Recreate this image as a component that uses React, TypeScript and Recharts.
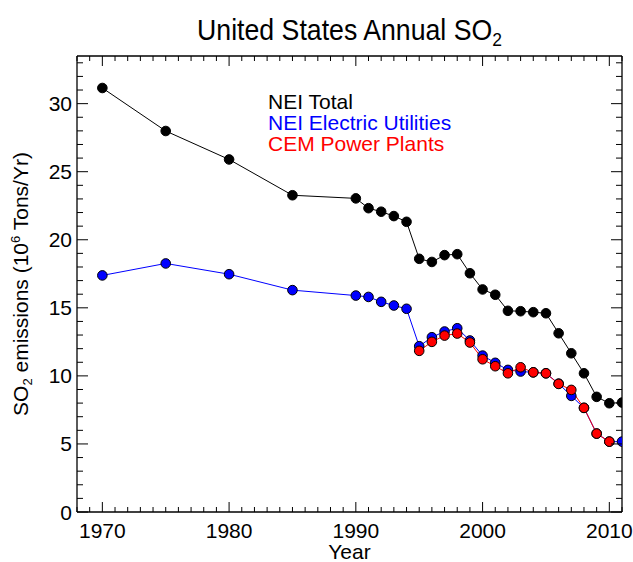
import React from 'react';
import { LineChart, Line, XAxis, YAxis } from 'recharts';

const years = [1970, 1975, 1980, 1985, 1990, 1991, 1992, 1993, 1994, 1995, 1996, 1997, 1998, 1999, 2000, 2001, 2002, 2003, 2004, 2005, 2006, 2007, 2008, 2009, 2010, 2011];
const neiTotal = [31.15, 27.99, 25.9, 23.27, 23.04, 22.32, 22.06, 21.74, 21.32, 18.6, 18.37, 18.87, 18.94, 17.54, 16.35, 15.96, 14.78, 14.75, 14.68, 14.6, 13.13, 11.66, 10.19, 8.46, 7.99, 8.04];
const neiElectric = [17.38, 18.26, 17.47, 16.3, 15.9, 15.8, 15.44, 15.17, 14.93, 12.18, 12.84, 13.26, 13.5, 12.6, 11.49, 10.96, 10.44, 10.32, 10.26, 10.19, 9.43, 8.53, 7.65, 5.76, 5.17, 5.17];
const cemYears = [1995, 1996, 1997, 1998, 1999, 2000, 2001, 2002, 2003, 2004, 2005, 2006, 2007, 2008, 2009, 2010];
const cemPower = [11.84, 12.5, 12.96, 13.11, 12.45, 11.22, 10.71, 10.19, 10.63, 10.26, 10.19, 9.41, 8.97, 7.65, 5.76, 5.17];

const xDomain = [1968, 2011];
const yDomain = [0, 33.5];
const xTicks = Array.from({ length: 2011 - 1968 + 1 }, (_, i) => 1968 + i);
const yTicks = Array.from({ length: 34 }, (_, i) => i);

const legendLabels = ['NEI Total', 'NEI Electric Utilities', 'CEM Power Plants'];
const seriesColors = ['#000000', '#0000ff', '#ff0000'];

const data = years.map((yr, i) => {
  const ci = cemYears.indexOf(yr);
  return {
    year: yr,
    total: neiTotal[i],
    electric: neiElectric[i],
    cem: ci >= 0 ? cemPower[ci] : undefined,
  };
});

const FONT = '"Liberation Sans", Arial, Helvetica, sans-serif';
const FS = 21;

const BottomTick = (props: any) => {
  const { x, y, payload } = props;
  const v = payload.value;
  const major = v % 10 === 0;
  return (
    <g>
      <line x1={x} x2={x} y1={y} y2={y - (major ? 10 : 5)} stroke="#000" strokeWidth={1} />
      {major && (
        <text x={x} y={y + 26} textAnchor="middle" fontSize={FS} fontFamily={FONT} fill="#000">
          {v}
        </text>
      )}
    </g>
  );
};

const TopTick = (props: any) => {
  const { x, y, payload } = props;
  const major = payload.value % 10 === 0;
  return <line x1={x} x2={x} y1={y} y2={y + (major ? 10 : 5)} stroke="#000" strokeWidth={1} />;
};

const LeftTick = (props: any) => {
  const { x, y, payload } = props;
  const v = payload.value;
  const major = v % 5 === 0;
  return (
    <g>
      <line x1={x} x2={x + (major ? 11 : 6)} y1={y} y2={y} stroke="#000" strokeWidth={1} />
      {major && (
        <text x={x - 5} y={y + 7.5} textAnchor="end" fontSize={FS} fontFamily={FONT} fill="#000">
          {v}
        </text>
      )}
    </g>
  );
};

const RightTick = (props: any) => {
  const { x, y, payload } = props;
  const major = payload.value % 5 === 0;
  return <line x1={x} x2={x - (major ? 11 : 6)} y1={y} y2={y} stroke="#000" strokeWidth={1} />;
};

const dotFor = (fill: string) => ({ r: 4.8, fill, stroke: '#000', strokeWidth: 1 });

export default function App() {
  return (
    <div style={{ position: 'absolute', left: 0, top: 0, width: 633, height: 562, background: '#fff' }}>
      <LineChart width={633} height={562} data={data} margin={{ top: 0, right: 0, bottom: 0, left: 0 }}>
        <XAxis
          xAxisId="bottom"
          dataKey="year"
          type="number"
          domain={xDomain}
          ticks={xTicks}
          interval={0}
          height={50}
          tickSize={0}
          tickMargin={0}
          tickLine={false}
          axisLine={{ stroke: '#000', strokeWidth: 1.3 }}
          tick={BottomTick}
          allowDataOverflow
        />
        <XAxis
          xAxisId="top"
          orientation="top"
          dataKey="year"
          type="number"
          domain={xDomain}
          ticks={xTicks}
          interval={0}
          height={56}
          tickSize={0}
          tickMargin={0}
          tickLine={false}
          axisLine={{ stroke: '#000', strokeWidth: 1.3 }}
          tick={TopTick}
          allowDataOverflow
        />
        <YAxis
          yAxisId="left"
          type="number"
          domain={yDomain}
          ticks={yTicks}
          interval={0}
          width={77}
          tickSize={0}
          tickMargin={0}
          tickLine={false}
          axisLine={{ stroke: '#000', strokeWidth: 1.3 }}
          tick={LeftTick}
          allowDataOverflow
        />
        <YAxis
          yAxisId="right"
          orientation="right"
          type="number"
          domain={yDomain}
          ticks={yTicks}
          interval={0}
          width={11}
          tickSize={0}
          tickMargin={0}
          tickLine={false}
          axisLine={{ stroke: '#000', strokeWidth: 1.3 }}
          tick={RightTick}
          allowDataOverflow
        />
        <Line
          xAxisId="bottom"
          yAxisId="left"
          dataKey="total"
          stroke={seriesColors[0]}
          strokeWidth={1}
          dot={dotFor(seriesColors[0])}
          activeDot={false}
          isAnimationActive={false}
        />
        <Line
          xAxisId="bottom"
          yAxisId="left"
          dataKey="electric"
          stroke={seriesColors[1]}
          strokeWidth={1}
          dot={dotFor(seriesColors[1])}
          activeDot={false}
          isAnimationActive={false}
        />
        <Line
          xAxisId="bottom"
          yAxisId="left"
          dataKey="cem"
          stroke={seriesColors[2]}
          strokeWidth={1}
          dot={dotFor(seriesColors[2])}
          activeDot={false}
          isAnimationActive={false}
        />
      </LineChart>
      <svg
        width={633}
        height={562}
        style={{ position: 'absolute', left: 0, top: 0, pointerEvents: 'none' }}
        fontFamily={FONT}
      >
        <text transform="translate(349.5,40) scale(0.92,1)" textAnchor="middle" fontSize={29} fill="#000">
          United States Annual SO
          <tspan fontSize={19} dy={6}>2</tspan>
        </text>
        <text x={349.5} y={559} textAnchor="middle" fontSize={FS} fill="#000">
          Year
        </text>
        <text transform="translate(28,284) rotate(-90)" textAnchor="middle" fontSize={FS} fill="#000">
          SO
          <tspan fontSize={13} dy={4}>2</tspan>
          <tspan dy={-4}> emissions (10</tspan>
          <tspan fontSize={13} dy={-8}>6</tspan>
          <tspan dy={8}> Tons/Yr)</tspan>
        </text>
        {legendLabels.map((lab, i) => (
          <text key={lab} x={268} y={109 + i * 21} fontSize={FS} fill={seriesColors[i]}>
            {lab}
          </text>
        ))}
      </svg>
    </div>
  );
}
